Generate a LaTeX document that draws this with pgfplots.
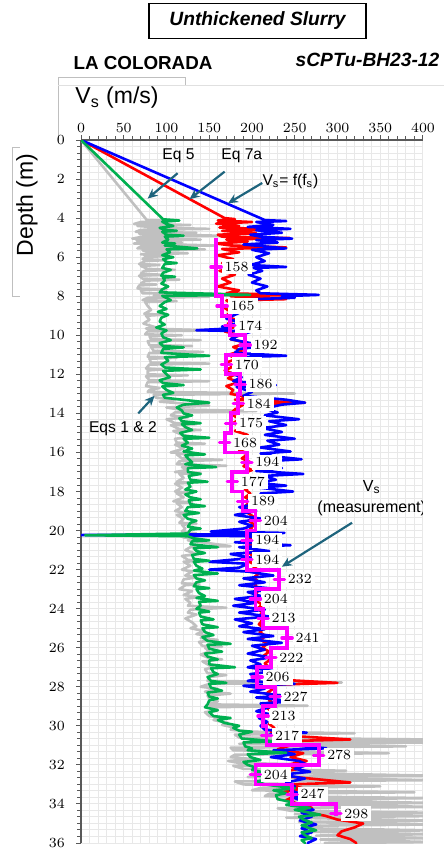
\documentclass[border=0pt]{standalone}
\usepackage{fontspec}
\setmainfont{Liberation Sans}
\usepackage{pgfplots}
\pgfplotsset{compat=1.18}
\usetikzlibrary{arrows.meta}
\definecolor{cgray}{RGB}{192,192,192}
\definecolor{cgreen}{RGB}{0,176,80}
\definecolor{cred}{RGB}{255,0,0}
\definecolor{cblue}{RGB}{0,0,255}
\definecolor{cmag}{RGB}{255,0,255}
\definecolor{arrowc}{RGB}{30,100,125}
\definecolor{axc}{RGB}{89,89,89}
\begin{document}
\begin{tikzpicture}
\path[use as bounding box] (0,0) rectangle (222pt,-425pt);
% faint text-box outlines
\draw[black!25, line width=0.5pt] (29pt,-70pt) -- (29pt,-39pt) -- (92.5pt,-39pt) -- (92.5pt,-43pt);
\draw[black!12, line width=0.5pt] (29pt,-43pt) -- (222pt,-43pt);
\draw[black!25, line width=0.5pt] (10pt,-74pt) -- (6pt,-74pt) -- (6pt,-148pt) -- (10pt,-148pt);
% titles
\node[draw=black, line width=0.6pt, minimum width=108.5pt, minimum height=17.5pt, inner sep=0pt,
      font=\bfseries\itshape\fontsize{9.6}{11}\selectfont] at (128.75pt,-10.5pt) {Unthickened Slurry};
\node[font=\bfseries\fontsize{9.4}{11}\selectfont] at (71.5pt,-31.5pt) {LA COLORADA};
\node[font=\bfseries\itshape\fontsize{9.6}{11}\selectfont] at (183.75pt,-30pt) {sCPTu-BH23-12};
\node[font=\fontsize{11.5}{13}\selectfont] at (58.5pt,-49pt) {V\textsubscript{s} (m/s)};
\node[rotate=90, font=\fontsize{11.5}{13}\selectfont] at (13.5pt,-102.5pt) {Depth (m)};
\begin{axis}[
  at={(40.5pt,-70pt)}, anchor=north west,
  scale only axis, width=171pt, height=351.5pt,
  xmin=0, xmax=400, ymin=0, ymax=36, y dir=reverse,
  xtick={0,50,...,400}, ytick={0,2,...,36},
  minor x tick num=4, minor y tick num=5,
  grid=both,
  major grid style={draw=black!9, line width=0.5pt},
  minor grid style={draw=black!9, line width=0.5pt},
  axis x line*=top, axis y line*=left,
  axis line style={draw=axc, line width=0.7pt},
  tick style={draw=axc, line width=0.5pt},
  tick align=outside, major tick length=2.5pt, minor tick length=1.8pt,
  ticklabel style={font=\fontsize{7.2}{8}\selectfont, text=black},
  xticklabel style={yshift=-2.5pt},
  yticklabel style={xshift=-2pt},
  every axis plot/.append style={line join=round, line cap=round},
]
% Eqs 1 & 2 (gray)
\addplot[cgray, line width=1.3pt] coordinates {
(0,0) (77,4.1) (110,4.15) (70,4.2) (62,4.3) (128,4.35) (66,4.4) (95,4.5) (150,4.55) (70,4.6)
(64,4.7) (135,4.75) (68,4.8) (160,4.9) (72,4.95) (60,5.05) (140,5.1) (65,5.15) (118,5.25) (62,5.3)
(155,5.4) (70,5.45) (66,5.55) (145,5.6) (72,5.65) (80,5.75) (125,5.8) (70,5.85) (95,5.95) (75,6.0)
(72,6.1) (100,6.15) (75,6.2) (68,6.35) (92,6.4) (70,6.45) (78,6.6) (110,6.65) (74,6.7) (70,6.85)
(95,6.9) (68,6.95) (72,7.1) (115,7.15) (75,7.2) (70,7.35) (88,7.4) (68,7.45) (66,7.6) (100,7.65)
(70,7.7) (72,7.85) (268,7.93) (85,7.98) (150,8.03) (78,8.08)
(72,8.2) (112,8.25) (75,8.3) (78,8.5) (82,8.7) (74,8.9) (95,8.95) (76,9.0) (80,9.2) (73,9.4)
(88,9.6) (76,9.65) (151,9.75) (78,9.8) (75,9.95) (118,10.0) (80,10.05) (82,10.2) (140,10.25) (78,10.3)
(80,10.5) (130,10.55) (82,10.6) (85,10.8) (143,10.85) (80,10.9) (78,11.1) (112,11.15) (80,11.2) (82,11.4)
(150,11.45) (80,11.5) (76,11.7) (95,11.75) (78,11.8) (78,12.0) (125,12.05) (76,12.1) (80,12.3) (150,12.35)
(78,12.4) (76,12.6) (92,12.7) (80,12.8) (78,12.9) (250,12.98) (85,13.05)
(88,13.2) (110,13.3) (92,13.4) (150,13.6) (100,13.7) (115,13.8) (205,13.88) (110,13.95)
(105,14.1) (125,14.2) (100,14.3) (110,14.5) (135,14.55) (105,14.6) (115,14.8) (140,14.85) (108,14.9) (118,15.1)
(130,15.2) (110,15.3) (112,15.5) (145,15.55) (110,15.6) (120,15.8) (105,16.0) (130,16.05) (112,16.1) (118,16.3)
(165,16.38) (115,16.45) (112,16.6) (170,16.68) (118,16.75) (125,16.9) (110,17.0) (140,17.05) (115,17.1) (120,17.3)
(112,17.5) (128,17.55) (110,17.6) (118,17.8) (110,18.0) (125,18.05) (112,18.1) (120,18.3) (108,18.5) (130,18.55)
(112,18.6) (118,18.8) (110,19.0) (125,19.1) (112,19.2) (120,19.4) (115,19.6) (135,19.65) (118,19.7) (122,19.9)
(118,20.05) (135,20.15) (115,20.25) (120,20.35)
(140,20.45) (125,20.5) (175,20.8) (128,20.85) (122,21.0) (135,21.2) (118,21.3) (125,21.5) (140,21.55) (120,21.6)
(128,21.8) (118,22.0) (130,22.1) (122,22.3) (135,22.4) (120,22.5) (118,22.7) (138,22.75) (122,22.8) (115,23.0)
(130,23.1) (120,23.3) (138,23.4) (122,23.5) (128,23.7) (125,23.85) (170,23.95) (128,24.05) (125,24.2) (135,24.3)
(122,24.5) (130,24.7) (135,24.9) (128,25.0)
(145,25.15) (135,25.3) (150,25.4) (140,25.5) (160,25.6) (138,25.7) (142,25.9) (165,25.95) (145,26.0) (150,26.2)
(140,26.35) (148,26.5) (165,26.6) (142,26.7) (150,26.9) (155,27.0) (145,27.1) (148,27.3) (170,27.4) (150,27.5)
(148,27.7) (305,27.78) (150,27.85) (140,28.0) (160,28.1) (145,28.25) (175,28.35) (148,28.45) (150,28.6) (160,28.75)
(148,28.9) (265,28.97) (150,29.05) (160,29.2) (145,29.3) (150,29.5) (165,29.6) (155,29.7) (172,29.85) (165,29.95)
(180,30.1) (175,30.2)
(200,30.3) (320,30.38) (180,30.45) (185,30.6) (410,30.7) (200,30.75) (410,30.85) (185,30.92) (380,31.05) (175,31.12)
(178,31.25) (360,31.4) (180,31.48) (175,31.6) (200,31.7) (172,31.8) (185,31.9) (268,31.98) (178,32.05) (190,32.2)
(310,32.3) (200,32.38) (410,32.55) (195,32.62) (410,32.78) (180,32.85) (190,33.0) (350,33.1) (210,33.18) (200,33.3)
(390,33.4) (220,33.48) (215,33.6) (410,33.7) (230,33.78) (410,33.95) (240,34.02) (410,34.15) (230,34.22) (245,34.35)
(410,34.45) (250,34.52) (410,34.62) (240,34.7) (410,34.85) (255,34.92) (410,35.05) (260,35.12) (270,35.25) (410,35.35)
(265,35.42) (410,35.55) (275,35.62) (410,35.75) (280,35.82) (410,35.95) (285,36.0)
};
% Eq 7a (red)
\addplot[cred, line width=1.3pt] coordinates {
(0,0) (168,4.0) (180,4.05) (160,4.12) (200,4.2) (158,4.28) (185,4.4) (162,4.48) (230,4.58) (165,4.65)
(205,4.78) (160,4.85) (165,4.95) (244,5.02) (170,5.1) (195,5.2) (158,5.3) (175,5.4) (240,5.5) (165,5.58)
(185,5.75) (160,5.9) (178,6.1) (165,6.3) (190,6.5) (162,6.7) (180,6.9) (165,7.1) (175,7.3) (160,7.5)
(185,7.7) (170,7.85) (252,7.93) (175,8.0) (240,8.15) (170,8.22) (178,8.4) (168,8.6) (175,8.8) (170,9.0)
(180,9.2) (172,9.4) (178,9.6) (168,9.8) (185,10.0) (175,10.2) (195,10.4) (178,10.6) (188,10.8) (172,11.0)
(182,11.2) (170,11.4) (178,11.6) (168,11.8) (180,12.0) (172,12.2) (185,12.4) (170,12.6) (178,12.8) (175,13.0)
(200,13.2) (180,13.3) (262,13.45) (190,13.55) (180,13.8) (175,14.0)
(185,14.3) (178,14.5) (190,14.7) (180,14.9) (195,15.1) (182,15.3) (188,15.5) (200,15.7) (185,15.9) (195,16.1)
(188,16.3) (198,16.5) (190,16.7) (200,16.9) (188,17.1) (195,17.3) (190,17.5) (200,17.7) (192,17.9) (198,18.1)
(192,18.3) (200,18.5) (193,18.7) (198,18.9) (195,19.1) (202,19.3) (196,19.5) (203,19.7) (198,19.9) (205,20.1)
(198,20.4) (203,20.6) (196,20.8) (205,21.0) (198,21.2) (204,21.4) (197,21.6) (206,21.8) (200,22.0) (208,22.2)
(202,22.4) (207,22.6) (203,22.8) (210,23.0) (204,23.2) (209,23.4) (205,23.6) (212,23.8) (206,24.0) (213,24.2)
(207,24.4) (212,24.6) (208,24.8) (214,25.0) (209,25.2) (216,25.4) (210,25.6) (218,25.8) (212,26.0) (220,26.2)
(214,26.4) (222,26.6) (215,26.8) (220,27.0) (214,27.2) (222,27.4) (218,27.6) (300,27.8) (220,27.9) (225,28.1)
(218,28.3) (228,28.5) (220,28.7) (226,28.9) (218,29.1) (224,29.3) (219,29.5) (225,29.7) (220,29.9) (226,30.1)
(222,30.3) (240,30.5) (315,30.7) (225,30.8) (245,31.0) (230,31.2) (260,31.4) (245,31.6) (264,31.8) (240,32.0)
(255,32.2) (230,32.4) (245,32.6) (315,32.9) (240,33.0) (260,33.2) (235,33.4) (250,33.6) (240,33.8) (255,34.0)
(270,34.2) (260,34.4) (285,34.6) (300,34.8) (330,35.0) (320,35.2) (305,35.4) (300,35.6) (315,35.8) (322,36.0)
};
% Vs = f(fs) (blue)
\addplot[cblue, line width=1.3pt] coordinates {
(0,0) (215,4.1) (240,4.15) (205,4.2) (225,4.35) (195,4.45) (245,4.55) (205,4.62) (235,4.75) (198,4.85)
(210,4.95) (247,5.05) (205,5.12) (230,5.25) (190,5.35) (215,5.45) (240,5.55) (200,5.62) (220,5.8) (205,6.0)
(215,6.2) (198,6.4) (240,6.5) (202,6.55) (212,6.7) (196,6.9) (210,7.1) (200,7.3) (218,7.5) (205,7.7)
(210,7.85) (278,7.93) (235,8.0) (250,8.08) (200,8.15) (185,8.35) (178,8.55) (190,8.75) (180,8.95) (170,9.15)
(188,9.35) (165,9.55) (175,9.65) (135,9.74) (200,9.8) (185,10.0) (175,10.2) (198,10.4) (215,10.55) (185,10.7)
(180,10.9) (240,11.05) (182,11.12) (200,11.35) (178,11.55) (192,11.75) (175,11.95) (188,12.15) (178,12.35) (228,12.55)
(182,12.65) (200,12.9) (190,13.1) (240,13.3) (262,13.45) (235,13.55) (215,13.75) (230,13.95)
(215,14.1) (255,14.3) (220,14.4) (240,14.6) (212,14.75) (235,14.95) (215,15.1) (250,15.3) (218,15.4) (232,15.6)
(210,15.75) (245,15.95) (210,16.05) (225,16.2) (258,16.35) (215,16.45) (205,16.6) (235,16.8) (205,16.95) (260,17.1)
(215,17.2) (228,17.4) (205,17.55) (240,17.7) (208,17.8) (248,18.0) (210,18.1) (225,18.3) (195,18.45) (210,18.6)
(185,18.8) (205,19.0) (180,19.2) (212,19.4) (185,19.55) (200,19.75) (190,19.9) (152,20.05) (238,20.12) (195,20.18)
(0,20.23) (190,20.28)
(230,20.5) (180,20.6) (245,20.75) (185,20.85) (220,21.05) (175,21.2) (200,21.4) (150,21.6) (195,21.7) (185,21.9)
(150,22.0) (195,22.1) (225,22.3) (190,22.45) (215,22.65) (185,22.8) (230,23.0) (195,23.15) (210,23.35) (180,23.5)
(205,23.7) (178,23.85) (215,24.05) (185,24.2) (220,24.4) (180,24.55) (200,24.75) (185,24.9) (215,25.05) (190,25.2)
(225,25.4) (195,25.55) (235,25.75) (200,25.9) (215,26.1) (195,26.3) (222,26.5) (198,26.65) (210,26.85) (195,27.0)
(225,27.2) (198,27.35) (210,27.55) (195,27.7) (250,27.85) (190,27.95) (215,28.1) (198,28.25) (235,28.45) (205,28.55)
(252,28.75) (210,28.85) (220,29.05) (205,29.25) (225,29.45) (208,29.6) (218,29.8) (210,30.0) (215,30.2) (264,30.35)
(220,30.45)
(240,30.65) (217,30.85) (287,31.15) (225,31.25) (250,31.45) (222,31.6) (255,31.8) (265,32.0) (250,32.2) (268,32.35)
(235,32.5) (262,32.7) (240,32.9) (250,33.1) (245,33.3) (258,33.5) (250,33.7) (262,33.9) (255,34.1) (272,34.3)
(258,34.45) (270,34.65) (256,34.85) (275,35.05) (258,35.25) (270,35.45) (256,35.65) (275,35.8) (265,36.0)
};
% Eq 5 (green)
\addplot[cgreen, line width=1.3pt] coordinates {
(0,0) (96,4.06) (115,4.12) (95,4.18) (100,4.3) (108,4.4) (92,4.5) (98,4.6) (112,4.65) (95,4.7)
(100,4.85) (120,4.9) (98,4.95) (102,5.1) (95,5.25) (110,5.3) (98,5.4) (136,5.55) (100,5.6) (104,5.75)
(95,5.9) (108,6.0) (96,6.1) (100,6.25) (112,6.3) (98,6.35) (95,6.55) (105,6.65) (96,6.8) (94,6.95)
(110,7.0) (96,7.05) (98,7.2) (94,7.35) (102,7.5) (95,7.65) (92,7.8) (198,7.93) (95,7.98) (105,8.2)
(98,8.3) (92,8.5) (100,8.65) (90,8.8) (102,8.95) (94,9.1) (92,9.3) (98,9.45) (88,9.6) (100,9.75)
(94,9.9) (96,10.1) (105,10.25) (92,10.4) (96,10.55) (120,10.62) (96,10.7) (94,10.9) (150,11.05) (98,11.12)
(102,11.3) (94,11.5) (98,11.65) (140,11.75) (96,11.82) (100,12.0) (104,12.15) (92,12.3) (96,12.45) (120,12.55)
(95,12.62) (100,12.8) (108,12.95) (96,13.05) (98,13.2) (150,13.45) (120,13.55) (112,13.7) (118,13.85)
(120,14.0) (130,14.1) (115,14.25) (118,14.4) (140,14.5) (118,14.55) (122,14.7) (130,14.85) (116,15.0) (120,15.15)
(150,15.25) (120,15.3) (125,15.5) (118,15.65) (130,15.8) (120,15.95) (145,16.1) (122,16.15) (125,16.3) (130,16.5)
(122,16.6) (158,16.75) (125,16.8) (125,17.0) (140,17.1) (126,17.2) (128,17.4) (148,17.5) (125,17.55) (128,17.75)
(122,17.9) (135,18.0) (122,18.15) (128,18.3) (140,18.4) (126,18.45) (128,18.65) (145,18.75) (125,18.8) (122,19.0)
(138,19.1) (120,19.2) (125,19.4) (135,19.5) (128,19.6) (125,19.8) (140,19.9) (128,19.95) (125,20.15) (5,20.24)
(125,20.29)
(132,20.4) (150,20.5) (130,20.55) (128,20.7) (160,20.85) (132,20.9) (135,21.05) (145,21.15) (130,21.25) (132,21.45)
(150,21.55) (132,21.6) (135,21.8) (142,21.95) (132,22.05) (160,22.2) (132,22.28) (135,22.45) (145,22.55) (135,22.65)
(132,22.85) (150,22.95) (135,23.0) (138,23.2) (145,23.35) (135,23.45) (160,23.6) (138,23.65) (140,23.85) (135,24.0)
(150,24.15) (138,24.2) (140,24.4) (155,24.55) (140,24.6) (142,24.8) (160,24.95) (142,25.0)
(145,25.2) (155,25.35) (142,25.45) (148,25.65) (175,25.8) (148,25.85) (150,26.05) (165,26.2) (145,26.3) (148,26.45)
(160,26.6) (150,26.65) (150,26.85) (180,27.0) (152,27.05) (155,27.25) (160,27.35) (148,27.5) (152,27.7) (170,27.8)
(150,27.85) (152,28.05) (165,28.2) (148,28.3) (150,28.5) (160,28.6) (150,28.7) (148,28.9) (145,29.05) (160,29.2)
(150,29.3) (155,29.5) (175,29.6) (160,29.7) (168,29.85) (185,30.0) (178,30.1)
(185,30.25) (200,30.3) (185,30.45) (188,30.65) (230,30.8) (190,30.85) (192,31.05) (200,31.15) (195,31.25) (240,31.38)
(195,31.45) (198,31.6) (210,31.75) (190,31.85) (195,32.0) (205,32.15) (200,32.25) (215,32.4) (200,32.5) (240,32.75)
(205,32.82) (215,33.0) (250,33.2) (225,33.3) (240,33.45) (228,33.55) (230,33.75) (250,33.95) (240,34.05) (268,34.2)
(250,34.3) (280,34.55) (255,34.65) (260,34.8) (270,34.95) (258,35.1) (275,35.35) (258,35.45) (262,35.6) (270,35.75)
(258,35.85) (262,36.0)
};
% Vs measurement (magenta step profile)
\addplot[cmag, line width=1.9pt, line join=miter, line cap=butt] coordinates {
(158,5) (158,8) (165,8) (165,9) (174,9) (174,10) (192,10) (192,11)
(170,11) (170,12) (186,12) (186,13) (184,13) (184,14) (175,14) (175,15)
(168,15) (168,16) (194,16) (194,17) (177,17) (177,18) (189,18) (189,19)
(204,19) (204,20) (194,20) (194,22) (232,22) (232,23) (204,23) (204,24)
(213,24) (213,25) (241,25) (241,26) (222,26) (222,27) (206,27) (206,28)
(227,28) (227,29) (213,29) (213,30) (217,30) (217,31) (278,31) (278,32)
(204,32) (204,33) (247,33) (247,34) (298,34) (298,34.6)
};
\addplot[cmag, only marks, mark=-, mark size=2.6pt, line width=1.6pt] coordinates {
(158,6.5) (165,8.5) (174,9.5) (192,10.5) (170,11.5) (186,12.5) (184,13.5)
(175,14.5) (168,15.5) (194,16.5) (177,17.5) (189,18.5) (204,19.5) (194,20.5)
(194,21.5) (232,22.5) (204,23.5) (213,24.5) (241,25.5) (222,26.5) (206,27.5)
(227,28.5) (213,29.5) (217,30.5) (278,31.5) (204,32.5) (247,33.5) (298,34.5)
};
% value labels
\tikzset{lbl/.style={fill=white, inner sep=1.5pt, font=\fontsize{7.5}{8}\selectfont}}
\node[lbl] at (axis cs:182,6.5) {$158$};
\node[lbl] at (axis cs:189,8.5) {$165$};
\node[lbl] at (axis cs:198,9.5) {$174$};
\node[lbl] at (axis cs:216,10.5) {$192$};
\node[lbl] at (axis cs:194,11.5) {$170$};
\node[lbl] at (axis cs:210,12.5) {$186$};
\node[lbl] at (axis cs:208,13.5) {$184$};
\node[lbl] at (axis cs:199,14.5) {$175$};
\node[lbl] at (axis cs:192,15.5) {$168$};
\node[lbl] at (axis cs:218,16.5) {$194$};
\node[lbl] at (axis cs:201,17.5) {$177$};
\node[lbl] at (axis cs:213,18.5) {$189$};
\node[lbl] at (axis cs:228,19.5) {$204$};
\node[lbl] at (axis cs:218,20.5) {$194$};
\node[lbl] at (axis cs:218,21.5) {$194$};
\node[lbl] at (axis cs:256,22.5) {$232$};
\node[lbl] at (axis cs:228,23.5) {$204$};
\node[lbl] at (axis cs:237,24.5) {$213$};
\node[lbl] at (axis cs:265,25.5) {$241$};
\node[lbl] at (axis cs:246,26.5) {$222$};
\node[lbl] at (axis cs:230,27.5) {$206$};
\node[lbl] at (axis cs:251,28.5) {$227$};
\node[lbl] at (axis cs:237,29.5) {$213$};
\node[lbl] at (axis cs:241,30.5) {$217$};
\node[lbl] at (axis cs:302,31.5) {$278$};
\node[lbl] at (axis cs:228,32.5) {$204$};
\node[lbl] at (axis cs:271,33.5) {$247$};
\node[lbl] at (axis cs:322,34.5) {$298$};
% annotations
\tikzset{ann/.style={draw=arrowc, line width=1.1pt, -{Stealth[length=5pt,width=4.5pt]}}}
\node[font=\fontsize{7.8}{9}\selectfont] at (axis cs:114,0.82) {Eq 5};
\draw[ann] (axis cs:113,1.7) -- (axis cs:78,3.0);
\node[font=\fontsize{7.8}{9}\selectfont] at (axis cs:188,0.82) {Eq 7a};
\draw[ann] (axis cs:168,1.62) -- (axis cs:127,3.03);
\node[font=\fontsize{7.8}{9}\selectfont] at (axis cs:245,2.14) {V\textsubscript{s}= f(f\textsubscript{s})};
\draw[ann] (axis cs:212,2.2) -- (axis cs:172,3.24);
\node[font=\fontsize{7.8}{9}\selectfont] at (axis cs:49,14.8) {Eqs 1 \& 2};
\draw[ann] (axis cs:67,14.0) -- (axis cs:86,13.1);
\node[font=\fontsize{8}{10.7}\selectfont, align=center] at (axis cs:340,18.35) {V\textsubscript{s}\\(measurement)};
\draw[ann] (axis cs:317,19.6) -- (axis cs:235,21.85);
\end{axis}
\end{tikzpicture}
\end{document}
